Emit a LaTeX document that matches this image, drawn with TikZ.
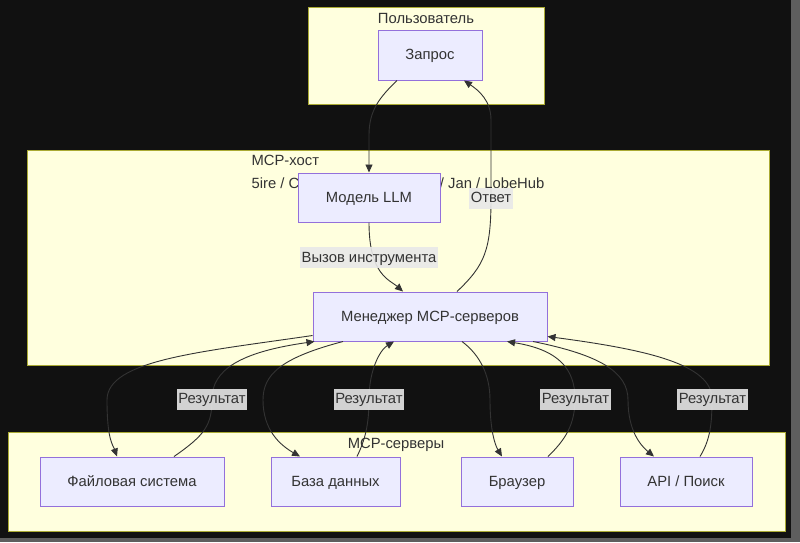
\documentclass[tikz,border=0pt]{standalone}
\usepackage{fontspec}
\setmainfont{Liberation Sans}
\usetikzlibrary{arrows.meta}

\definecolor{bg}{HTML}{111111}
\definecolor{rim}{HTML}{5E5E5E}
\definecolor{ink}{HTML}{333333}
\definecolor{edge}{HTML}{333333}
\definecolor{grpfill}{HTML}{FFFFDE}
\definecolor{grpline}{HTML}{AAAA33}
\definecolor{boxfill}{HTML}{ECECFF}
\definecolor{boxline}{HTML}{9370DB}
\definecolor{labfill}{HTML}{E8E8E8}

\begin{document}
\begin{tikzpicture}[x=1pt, y=-1pt,
	every node/.style = {font=\fontsize{14.8}{18}\selectfont, text=ink},
	g/.style = {rectangle, draw=grpline, fill=grpfill, line width=1pt, inner sep=0},
	n/.style = {rectangle, draw=boxline, fill=boxfill, line width=1pt, minimum height=49, text height=10.5pt, text depth=1.5pt},
	lab/.style = {fill=labfill, fill opacity=0.9, text opacity=1, inner xsep=1.5pt, minimum height=21, text height=10.5pt, text depth=1.5pt},
	r/.style = {-{Triangle[length=8pt,width=7pt]}, draw=edge, line width=0.9pt}
	]
	\useasboundingbox (0,0) rectangle (800,542);
	\fill[rim]	(0,0) rectangle (800,542);
	\fill[bg]	(0,0) rectangle (791,538);

	%Groups
	\node[g, minimum width=236, minimum height=97]	(user)		at	(426, 55.5)		{};
	\node[g, minimum width=742, minimum height=215]	(host)		at	(398, 257.5)	{};
	\node[g, minimum width=777, minimum height=99]	(servers)	at	(396.5, 481.5)	{};

	\node		(userlbl)	at	(426, 18.5)		{Пользователь};
	\node[align=left, inner sep=0, font=\fontsize{14.8}{23}\selectfont]
				(hostlbl)	at	(398, 173)		{MCP-хост\\5ire / Cherry Studio / Cursor / Jan / LobeHub};
	\node		(srvlbl)	at	(396, 444.5)	{MCP-серверы};

	%Nodes
	\node[n, minimum width=104, minimum height=50]	(q)		at	(430, 55)		{Запрос};
	\node[n, minimum width=142]	(llm)	at	(369, 197.5)	{Модель LLM};
	\node[n, minimum width=234]	(mgr)	at	(430, 316.5)	{Менеджер MCP-серверов};

	\node[n, minimum width=184]	(fs)	at	(132, 481.5)	{Файловая система};
	\node[n, minimum width=129]	(db)	at	(335.5, 481.5)	{База данных};
	\node[n, minimum width=112]	(br)	at	(517, 481.5)	{Браузер};
	\node[n, minimum width=132]	(api)	at	(686, 481.5)	{API / Поиск};

	%Lines
	\draw[r]	([xshift=-33pt]q.south) .. controls (380,97) and (369,110) .. (369,135) -- (llm.north);
	\draw[r]	(llm.south) .. controls (369,275) and (390,280) .. ([xshift=-27pt]mgr.north);
	\path		(llm.south) -- ++(0,35) node[lab] (call) {Вызов инструмента};
	\draw[r]	([xshift=27pt]mgr.north) .. controls (485,265) and (491,250) .. (491,198) node[lab] (ans) {Ответ}
				(491,198) -- (491,120) .. controls (491,100) and (478,90) .. ([xshift=34pt]q.south);

	\draw[r]	([yshift=6pt]mgr.south west) .. controls (200,352) and (107,360) .. (107,400)
				.. controls (107,440) and (113,445) .. ([xshift=-15pt]fs.north);
	\draw[r]	([xshift=42pt]fs.north) .. controls (205,435) and (212,425) .. (212,399)
				.. controls (212,370) and (240,352) .. ([xshift=2pt]mgr.south west);
	\draw[r]	([xshift=-87pt]mgr.south) .. controls (280,358) and (263,375) .. (263,400)
				.. controls (263,430) and (280,445) .. ([xshift=-35.5pt]db.north);
	\draw[r]	([xshift=21.5pt]db.north) .. controls (365,440) and (369,425) .. (369,399)
				.. controls (369,370) and (380,350) .. ([xshift=-36pt]mgr.south);
	\draw[r]	([xshift=32pt]mgr.south) .. controls (480,355) and (490,375) .. (490,400)
				.. controls (490,430) and (495,445) .. ([xshift=-15pt]br.north);
	\draw[r]	([xshift=31pt]br.north) .. controls (565,440) and (575,425) .. (575,399)
				.. controls (575,370) and (560,350) .. ([xshift=77pt]mgr.south);
	\draw[r]	([xshift=103pt]mgr.south) .. controls (600,355) and (628,372) .. (628,400)
				.. controls (628,430) and (640,445) .. ([xshift=-32pt]api.north);
	\draw[r]	([xshift=14pt]api.north) .. controls (710,440) and (712,425) .. (712,399)
				.. controls (712,365) and (650,350) .. ([yshift=5pt]mgr.south east);

	\node[lab]	(res1)	at	(212, 399)	{Результат};
	\node[lab]	(res2)	at	(369, 399)	{Результат};
	\node[lab]	(res3)	at	(575.5, 399)	{Результат};
	\node[lab]	(res4)	at	(712.5, 399)	{Результат};
\end{tikzpicture}
\end{document}
